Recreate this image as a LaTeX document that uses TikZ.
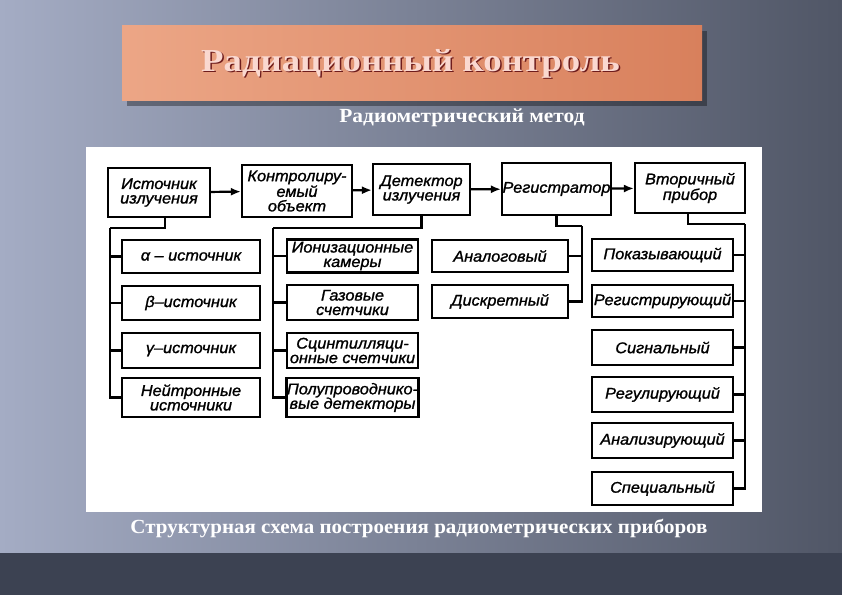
\documentclass[tikz,border=0pt]{standalone}
\usepackage{fontspec}
\setmainfont{Liberation Serif}
\newfontfamily\gost[FakeStretch=1.05, FakeBold=1.2]{Liberation Sans}
\usepackage{graphicx}
\usepackage{tikz}
\usetikzlibrary{arrows.meta,positioning}
\definecolor{bgleft}{RGB}{164,172,196}
\definecolor{bgright}{RGB}{80,86,102}
\definecolor{bgbottom}{RGB}{60,66,82}
\definecolor{copperleft}{RGB}{236,166,134}
\definecolor{copperright}{RGB}{216,128,92}
\definecolor{titlered}{RGB}{110,28,28}
\definecolor{titlepink}{RGB}{250,216,208}

\begin{document}
\begin{tikzpicture}[x=1pt, y=-1pt,
    main/.style={rectangle, draw, line width=2.2pt, fill=white, align=center, inner sep=0.5pt, font=\gost\itshape\fontsize{15.5}{14.5}\selectfont},
    link/.style={line width=2.2pt},
    flow/.style={link, -{Latex[length=10pt, width=8pt]}},
    heading/.style={font=\bfseries\fontsize{32}{32}\selectfont}
]
    % background
    \useasboundingbox (0,0) rectangle (842,595);
    \shade[left color=bgleft, right color=bgright] (0,0) rectangle (842,553);
    \fill[bgbottom] (0,553) rectangle (842,595);

    % title plate
    \fill[black, opacity=0.35] (127,31) rectangle (707,106);
    \shade[left color=copperleft, right color=copperright] (122,25) rectangle (702,100);
    \node[heading, text=titlered] (titleshade) at (412,65) {\scalebox{1.15}[1]{Радиационный контроль}};
    \node[heading, text=titlepink] (title) at (410.5,63.5) {\scalebox{1.15}[1]{Радиационный контроль}};
    \node[font=\bfseries\fontsize{20}{20}\selectfont, text=white] (method) at (462,118) {\scalebox{1.07}[1]{Радиометрический метод}};

    % white panel
    \fill[white] (86,147) rectangle (762,512);

    % top row
    \node[main, minimum width=102pt, minimum height=49pt] (src) at (159,192.5) {Источник\\излучения};
    \node[main, minimum width=110pt, minimum height=52pt] (obj) at (297,191) {Контролиру-\\емый\\объект};
    \node[main, minimum width=97pt, minimum height=51pt] (det) at (421.5,189.5) {Детектор\\излучения};
    \node[main, minimum width=107pt, minimum height=52pt] (reg) at (556.5,189) {Регистратор};
    \node[main, minimum width=110pt, minimum height=50pt] (sec) at (690,188) {Вторичный\\прибор};

    \draw[flow] (src) -- (obj);
    \draw[flow] (obj) -- (det);
    \draw[flow] (det) -- (reg);
    \draw[flow] (reg) -- (sec);

    % sources
    \node[main, minimum width=138pt, minimum height=33pt] (alpha) at (191,256.5) {α – источник};
    \node[main, minimum width=138pt, minimum height=34pt] (beta) at (191,303) {β–источник};
    \node[main, minimum width=138pt, minimum height=35pt] (gamma) at (191,350.5) {γ–источник};
    \node[main, minimum width=138pt, minimum height=39pt] (neut) at (191,397.5) {Нейтронные\\источники};

    % detectors
    \node[main, minimum width=131pt, minimum height=33pt] (ion) at (352.5,256) {Ионизационные\\камеры};
    \node[main, minimum width=131pt, minimum height=35pt] (gas) at (352.5,302.5) {Газовые\\счетчики};
    \node[main, minimum width=131pt, minimum height=35pt] (scin) at (352.5,350.5) {Сцинтилляци-\\онные счетчики};
    \node[main, minimum width=131pt, minimum height=39pt] (semi) at (352.5,397.5) {Полупроводнико-\\вые детекторы};

    % registrators
    \node[main, minimum width=136pt, minimum height=32pt] (ana) at (500,256) {Аналоговый};
    \node[main, minimum width=136pt, minimum height=33pt] (dis) at (500,301.5) {Дискретный};

    % secondary devices
    \node[main, minimum width=141pt, minimum height=32pt] (show) at (662.5,255) {Показывающий};
    \node[main, minimum width=141pt, minimum height=32pt] (rec) at (662.5,301) {Регистрирующий};
    \node[main, minimum width=141pt, minimum height=35pt] (sig) at (662.5,347.5) {Сигнальный};
    \node[main, minimum width=141pt, minimum height=35pt] (ctl) at (662.5,394.5) {Регулирующий};
    \node[main, minimum width=141pt, minimum height=35pt] (anl) at (662.5,440.5) {Анализирующий};
    \node[main, minimum width=141pt, minimum height=33pt] (spec) at (662.5,488.5) {Специальный};

    % trunks
    \coordinate (t1) at (110,228);
    \coordinate (t2) at (273,228);
    \coordinate (t3) at (582,226);
    \coordinate (t4) at (745,224);

    \draw[link] ([xshift=6pt]src.south) |- (t1);
    \foreach \n in {alpha,beta,gamma,neut} \draw[link] (t1) |- (\n.west);
    \draw[link] (det.south) |- (t2);
    \foreach \n in {ion,gas,scin,semi} \draw[link] (t2) |- (\n.west);
    \draw[link] (reg.south) |- (t3);
    \foreach \n in {ana,dis} \draw[link] (t3) |- (\n.east);
    \draw[link] ([xshift=-2pt]sec.south) |- (t4);
    \foreach \n in {show,rec,sig,ctl,anl,spec} \draw[link] (t4) |- (\n.east);

    % caption
    \node[font=\bfseries\fontsize{20}{20}\selectfont, text=white] (caption) at (419,528.5) {\scalebox{1.05}[1]{Структурная схема построения радиометрических приборов}};
\end{tikzpicture}
\end{document}
